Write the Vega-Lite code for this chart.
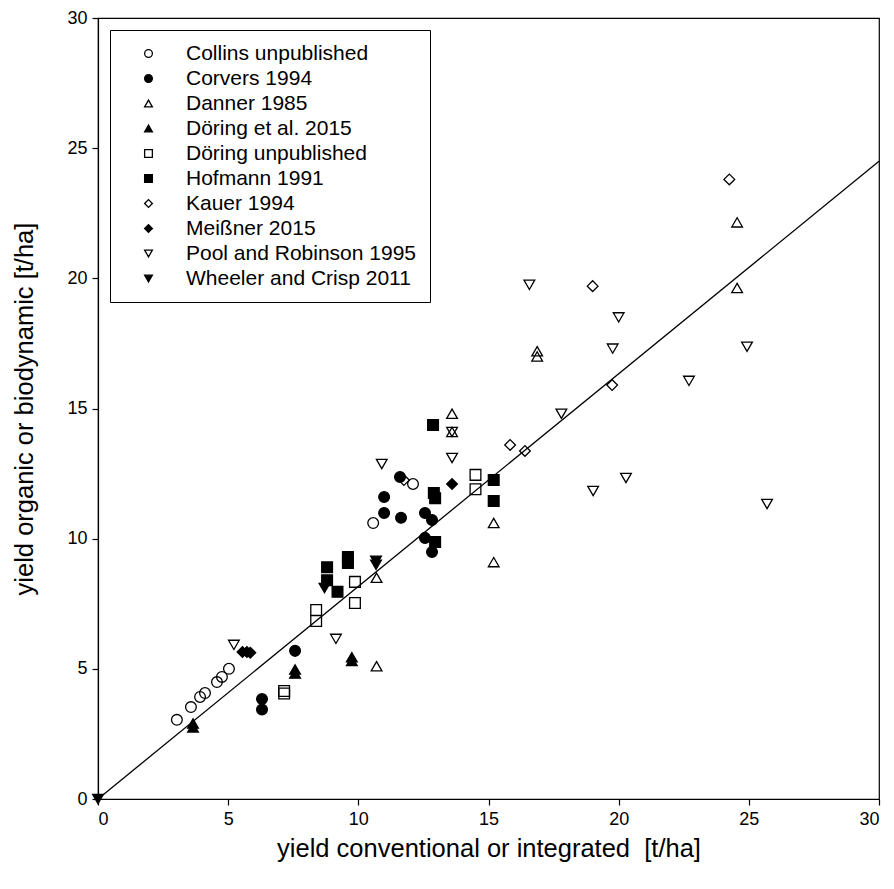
{
  "$schema": "https://vega.github.io/schema/vega-lite/v6.json",
  "width": 781,
  "height": 781,
  "autosize": {"type": "none"},
  "padding": {"left": 98, "top": 18, "right": 15, "bottom": 90},
  "background": "white",
  "config": {
    "font": "Liberation Sans",
    "view": {"stroke": "black", "strokeWidth": 1.2},
    "axis": {
      "domainColor": "black",
      "domainWidth": 1.2,
      "tickColor": "black",
      "tickWidth": 1.2,
      "tickSize": 6,
      "labelFont": "Liberation Sans",
      "labelFontSize": 18,
      "labelColor": "black",
      "labelPadding": 5,
      "titleFont": "Liberation Sans",
      "titleFontSize": 25.5,
      "titleFontWeight": "normal",
      "titleColor": "black",
      "grid": false
    },
    "legend": {
      "strokeColor": "black",
      "fillColor": "white",
      "padding": 13,
      "labelFont": "Liberation Sans",
      "labelFontSize": 21,
      "labelColor": "black",
      "labelOffset": 27,
      "symbolOffset": 15,
      "symbolSize": 60,
      "symbolStrokeWidth": 1.3,
      "rowPadding": 3,
      "labelLimit": 400
    }
  },
  "layer": [
    {
      "data": {"values": [{"conv": 0, "org": 0}, {"conv": 30, "org": 24.5}]},
      "mark": {"type": "line", "color": "black", "strokeWidth": 1.3},
      "encoding": {
        "x": {"field": "conv", "type": "quantitative", "scale": {"domain": [0, 30], "nice": false}, "axis": {"values": [0, 5, 10, 15, 20, 25, 30], "title": "yield conventional or integrated \u00a0[t/ha]", "titlePadding": 8}},
        "y": {"field": "org", "type": "quantitative", "scale": {"domain": [0, 30], "nice": false}, "axis": {"values": [0, 5, 10, 15, 20, 25, 30], "title": "yield organic or biodynamic [t/ha]", "titlePadding": 29}}
      }
    },
    {
      "data": {
        "values": [
          {"study": "Collins unpublished", "conv": 3.03, "org": 3.04},
          {"study": "Collins unpublished", "conv": 3.57, "org": 3.53},
          {"study": "Collins unpublished", "conv": 3.92, "org": 3.92},
          {"study": "Collins unpublished", "conv": 4.11, "org": 4.07},
          {"study": "Collins unpublished", "conv": 4.57, "org": 4.49},
          {"study": "Collins unpublished", "conv": 4.76, "org": 4.69},
          {"study": "Collins unpublished", "conv": 5.03, "org": 5.0},
          {"study": "Collins unpublished", "conv": 10.57, "org": 10.6},
          {"study": "Collins unpublished", "conv": 12.1, "org": 12.1},
          {"study": "Corvers 1994", "conv": 6.3, "org": 3.84},
          {"study": "Corvers 1994", "conv": 6.3, "org": 3.44},
          {"study": "Corvers 1994", "conv": 7.57, "org": 5.69},
          {"study": "Corvers 1994", "conv": 10.99, "org": 11.6},
          {"study": "Corvers 1994", "conv": 10.99, "org": 10.99},
          {"study": "Corvers 1994", "conv": 11.64, "org": 10.8},
          {"study": "Corvers 1994", "conv": 12.56, "org": 10.99},
          {"study": "Corvers 1994", "conv": 12.83, "org": 10.72},
          {"study": "Corvers 1994", "conv": 12.56, "org": 10.03},
          {"study": "Corvers 1994", "conv": 12.83, "org": 9.49},
          {"study": "Corvers 1994", "conv": 11.6, "org": 12.37},
          {"study": "Danner 1985", "conv": 10.7, "org": 5.1},
          {"study": "Danner 1985", "conv": 10.7, "org": 8.5},
          {"study": "Danner 1985", "conv": 13.6, "org": 14.8},
          {"study": "Danner 1985", "conv": 13.6, "org": 14.1},
          {"study": "Danner 1985", "conv": 15.2, "org": 10.6},
          {"study": "Danner 1985", "conv": 15.2, "org": 9.1},
          {"study": "Danner 1985", "conv": 16.87, "org": 17.2},
          {"study": "Danner 1985", "conv": 16.87, "org": 17.0},
          {"study": "Danner 1985", "conv": 24.55, "org": 22.15},
          {"study": "Danner 1985", "conv": 24.55, "org": 19.63},
          {"study": "Döring et al. 2015", "conv": 3.65, "org": 2.9},
          {"study": "Döring et al. 2015", "conv": 3.65, "org": 2.75},
          {"study": "Döring et al. 2015", "conv": 7.57, "org": 4.98},
          {"study": "Döring et al. 2015", "conv": 7.57, "org": 4.82},
          {"study": "Döring et al. 2015", "conv": 9.75, "org": 5.45},
          {"study": "Döring et al. 2015", "conv": 9.75, "org": 5.3},
          {"study": "Döring unpublished", "conv": 7.15, "org": 4.15},
          {"study": "Döring unpublished", "conv": 7.15, "org": 4.05},
          {"study": "Döring unpublished", "conv": 8.38, "org": 7.26},
          {"study": "Döring unpublished", "conv": 8.38, "org": 6.84},
          {"study": "Döring unpublished", "conv": 9.87, "org": 8.34},
          {"study": "Döring unpublished", "conv": 9.87, "org": 7.53},
          {"study": "Döring unpublished", "conv": 14.5, "org": 12.45},
          {"study": "Döring unpublished", "conv": 14.5, "org": 11.9},
          {"study": "Hofmann 1991", "conv": 8.8, "org": 8.9},
          {"study": "Hofmann 1991", "conv": 8.8, "org": 8.4},
          {"study": "Hofmann 1991", "conv": 9.2, "org": 7.96},
          {"study": "Hofmann 1991", "conv": 9.6, "org": 9.3},
          {"study": "Hofmann 1991", "conv": 9.6, "org": 9.07},
          {"study": "Hofmann 1991", "conv": 12.95, "org": 9.87},
          {"study": "Hofmann 1991", "conv": 12.9, "org": 11.75},
          {"study": "Hofmann 1991", "conv": 12.95, "org": 11.55},
          {"study": "Hofmann 1991", "conv": 12.87, "org": 14.37},
          {"study": "Hofmann 1991", "conv": 15.2, "org": 12.25},
          {"study": "Hofmann 1991", "conv": 15.2, "org": 11.45},
          {"study": "Kauer 1994", "conv": 11.75, "org": 12.25},
          {"study": "Kauer 1994", "conv": 15.83, "org": 13.6},
          {"study": "Kauer 1994", "conv": 16.4, "org": 13.37},
          {"study": "Kauer 1994", "conv": 19.0, "org": 19.7},
          {"study": "Kauer 1994", "conv": 19.75, "org": 15.9},
          {"study": "Kauer 1994", "conv": 24.25, "org": 23.8},
          {"study": "Meißner 2015", "conv": 5.55, "org": 5.65},
          {"study": "Meißner 2015", "conv": 5.72, "org": 5.65},
          {"study": "Meißner 2015", "conv": 5.85, "org": 5.62},
          {"study": "Meißner 2015", "conv": 13.6, "org": 12.1},
          {"study": "Pool and Robinson 1995", "conv": 5.22, "org": 5.92},
          {"study": "Pool and Robinson 1995", "conv": 9.14, "org": 6.15},
          {"study": "Pool and Robinson 1995", "conv": 10.9, "org": 12.87},
          {"study": "Pool and Robinson 1995", "conv": 13.6, "org": 13.1},
          {"study": "Pool and Robinson 1995", "conv": 13.6, "org": 14.1},
          {"study": "Pool and Robinson 1995", "conv": 16.57, "org": 19.75},
          {"study": "Pool and Robinson 1995", "conv": 20.0, "org": 18.5},
          {"study": "Pool and Robinson 1995", "conv": 19.77, "org": 17.3},
          {"study": "Pool and Robinson 1995", "conv": 17.8, "org": 14.8},
          {"study": "Pool and Robinson 1995", "conv": 22.7, "org": 16.06},
          {"study": "Pool and Robinson 1995", "conv": 19.02, "org": 11.83},
          {"study": "Pool and Robinson 1995", "conv": 20.28, "org": 12.33},
          {"study": "Pool and Robinson 1995", "conv": 25.7, "org": 11.33},
          {"study": "Pool and Robinson 1995", "conv": 24.93, "org": 17.37},
          {"study": "Wheeler and Crisp 2011", "conv": 0, "org": 0},
          {"study": "Wheeler and Crisp 2011", "conv": 8.7, "org": 8.1},
          {"study": "Wheeler and Crisp 2011", "conv": 10.68, "org": 9.15},
          {"study": "Wheeler and Crisp 2011", "conv": 10.68, "org": 9.0}
        ]
      },
      "mark": {"type": "point", "filled": true, "strokeWidth": 1.3, "size": 115, "opacity": 1, "clip": false},
      "encoding": {
        "x": {"field": "conv", "type": "quantitative"},
        "y": {"field": "org", "type": "quantitative"},
        "shape": {
          "field": "study",
          "type": "nominal",
          "scale": {
            "domain": ["Collins unpublished", "Corvers 1994", "Danner 1985", "Döring et al. 2015", "Döring unpublished", "Hofmann 1991", "Kauer 1994", "Meißner 2015", "Pool and Robinson 1995", "Wheeler and Crisp 2011"],
            "range": ["circle", "circle", "triangle-up", "triangle-up", "square", "square", "diamond", "diamond", "triangle-down", "triangle-down"]
          },
          "legend": {"title": null, "orient": "none", "legendX": 12, "legendY": 12}
        },
        "fill": {
          "field": "study",
          "type": "nominal",
          "scale": {
            "domain": ["Collins unpublished", "Corvers 1994", "Danner 1985", "Döring et al. 2015", "Döring unpublished", "Hofmann 1991", "Kauer 1994", "Meißner 2015", "Pool and Robinson 1995", "Wheeler and Crisp 2011"],
            "range": ["transparent", "black", "transparent", "black", "transparent", "black", "transparent", "black", "transparent", "black"]
          },
          "legend": {"title": null, "orient": "none", "legendX": 12, "legendY": 12}
        },
        "stroke": {
          "field": "study",
          "type": "nominal",
          "scale": {
            "domain": ["Collins unpublished", "Corvers 1994", "Danner 1985", "Döring et al. 2015", "Döring unpublished", "Hofmann 1991", "Kauer 1994", "Meißner 2015", "Pool and Robinson 1995", "Wheeler and Crisp 2011"],
            "range": ["black", "black", "black", "black", "black", "black", "black", "black", "black", "black"]
          },
          "legend": {"title": null, "orient": "none", "legendX": 12, "legendY": 12}
        }
      }
    }
  ]
}
